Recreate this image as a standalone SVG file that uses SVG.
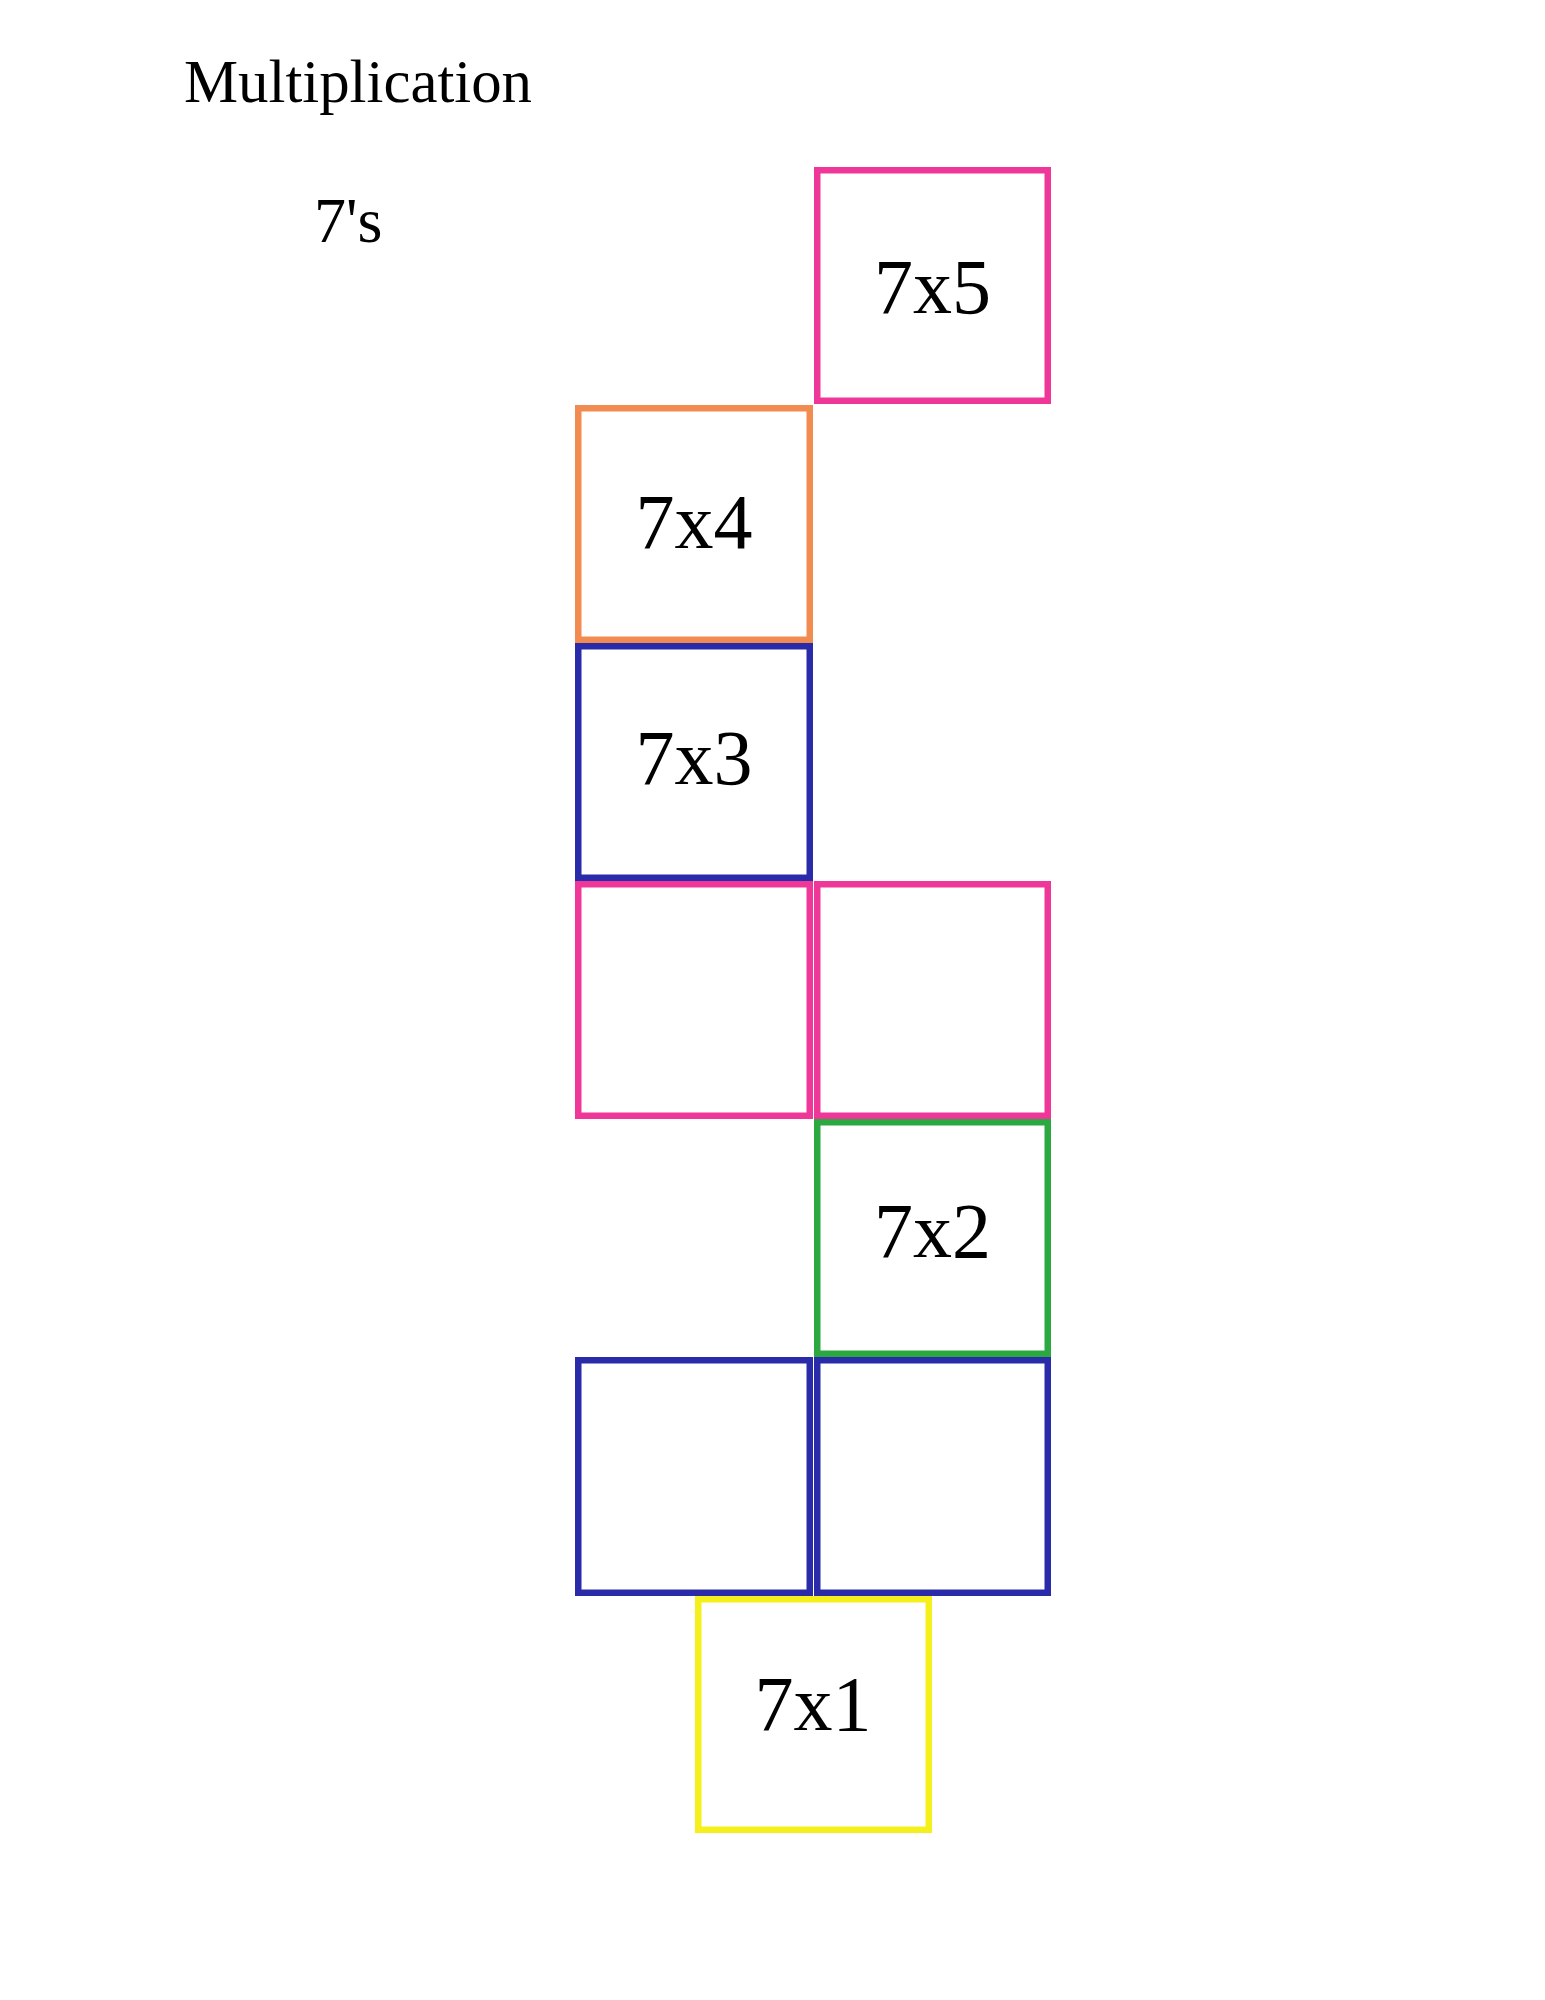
<svg xmlns="http://www.w3.org/2000/svg" width="1545" height="2000" viewBox="0 0 1545 2000">
  <style>
    .box { fill: #ffffff; stroke-width: 6.5; }
    .pink { stroke: #EF3699; }
    .orange { stroke: #F28B50; }
    .blue { stroke: #2A2BA8; }
    .green { stroke: #2BA840; }
    .yellow { stroke: #F5F01C; }
    .lbl { font-family: "Liberation Serif", "DejaVu Serif", serif; font-size: 78px; fill: #000000; text-anchor: middle; }
    .title { font-family: "Liberation Serif", "DejaVu Serif", serif; fill: #000000; }
  </style>
  <rect width="1545" height="2000" fill="#ffffff"/>
  <g id="title">
    <text class="title" x="184" y="102" font-size="62" textLength="348" lengthAdjust="spacingAndGlyphs">Multiplication</text>
  </g>
  <g id="subtitle">
    <text class="title" x="314" y="242" font-size="64">7's</text>
  </g>
  <g id="connectors"></g>
  <g id="box-7x5">
    <rect class="box pink" x="817.25" y="170.25" width="230.5" height="230.5"/>
    <text class="lbl" x="932.5" y="313">7x5</text>
  </g>
  <g id="box-7x4">
    <rect class="box orange" x="578.25" y="408.25" width="231.5" height="231.5"/>
    <text class="lbl" x="694" y="548">7x4</text>
  </g>
  <g id="box-7x3">
    <rect class="box blue" x="578.25" y="646.25" width="231.5" height="231.5"/>
    <text class="lbl" x="694" y="784">7x3</text>
  </g>
  <g id="box-pink-left">
    <rect class="box pink" x="578.25" y="884.25" width="231.5" height="231.5"/>
  </g>
  <g id="box-pink-right">
    <rect class="box pink" x="817.25" y="884.25" width="230.5" height="231.5"/>
  </g>
  <g id="box-7x2">
    <rect class="box green" x="817.25" y="1122.25" width="230.5" height="231.5"/>
    <text class="lbl" x="932.5" y="1257">7x2</text>
  </g>
  <g id="box-blue-left">
    <rect class="box blue" x="578.25" y="1360.25" width="231.5" height="232.5"/>
  </g>
  <g id="box-blue-right">
    <rect class="box blue" x="817.25" y="1360.25" width="230.5" height="232.5"/>
  </g>
  <g id="box-7x1">
    <rect class="box yellow" x="698.25" y="1599.25" width="230.5" height="230.5"/>
    <text class="lbl" x="813" y="1730">7x1</text>
  </g>
</svg>
